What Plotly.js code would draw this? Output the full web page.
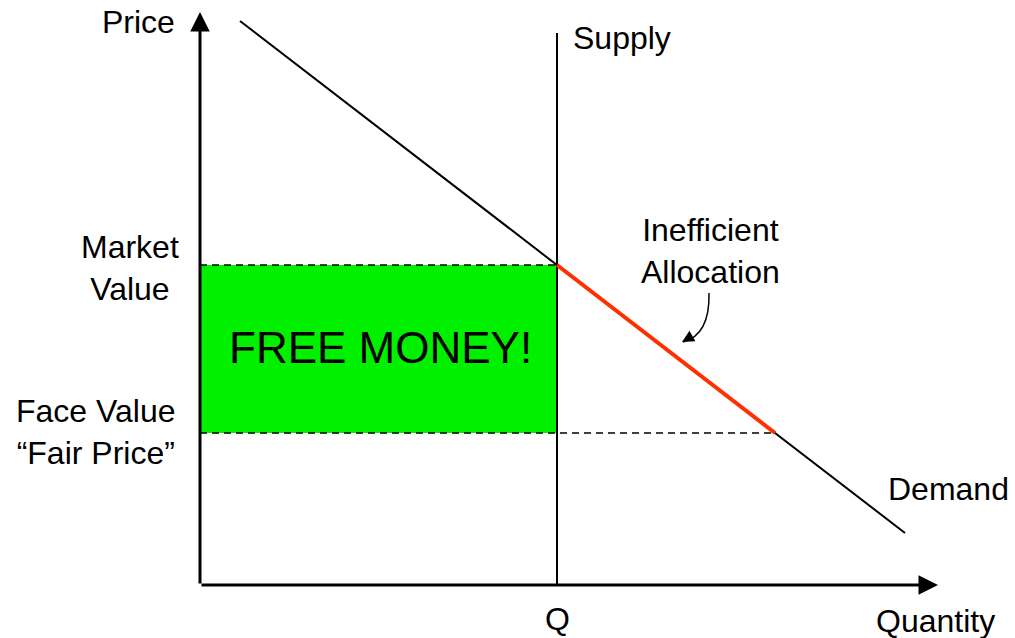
<!DOCTYPE html>
<html>
<head>
<meta charset="utf-8">
<script src="https://cdn.plot.ly/plotly-3.0.1.min.js"></script>
<style>
  html, body { margin: 0; padding: 0; background: #fff; }
  #chart { width: 1015px; height: 638px; }
</style>
</head>
<body>
<div id="chart"></div>
<script>
// schematic values (arbitrary units)
const qStar       = 35.7;
const marketValue = 32;
const faceValue   = 15.2;
const demandQ = [4, qStar, 57.5, 70.5];
const demandP = [56.4, marketValue, faceValue, 5.2];
const supplyQ = [qStar, qStar];
const supplyP = [0, 55.2];
const axisEnd = { q: 73.8, p: 57.3 };

const FONT = 'Liberation Sans, Arial, sans-serif';
const black = '#000';
const LBL = 32;

const traces = [
    {   // gain rectangle
        x: [0, qStar, qStar, 0, 0],
        y: [faceValue, faceValue, marketValue, marketValue, faceValue],
        mode: 'lines', fill: 'toself', fillcolor: '#00f000',
        line: { width: 0 }, hoverinfo: 'skip'
    },
    {   // market value dashed
        x: [0, qStar], y: [marketValue, marketValue],
        mode: 'lines', line: { color: black, width: 1.3, dash: '7px,5px' }
    },
    {   // face value dashed, out to the demand curve
        x: [0, demandQ[2]], y: [faceValue, faceValue],
        mode: 'lines', line: { color: black, width: 1.3, dash: '7px,5px' }
    },
    {
        x: supplyQ, y: supplyP,
        mode: 'lines', line: { color: black, width: 2 }
    },
    {
        x: demandQ, y: demandP,
        mode: 'lines', line: { color: black, width: 2 }
    },
    {   // misallocated part of demand
        x: demandQ.slice(1, 3), y: demandP.slice(1, 3),
        mode: 'lines', line: { color: '#ff3000', width: 4 }
    }
];

function label(text, x, y, size, opts) {
    return Object.assign({
        text: text, x: x, y: y, xref: 'x', yref: 'y',
        showarrow: false, font: { family: FONT, size: size, color: black }
    }, opts || {});
}

const annotations = [
    // axes with arrow heads
    { x: axisEnd.q, y: 0, ax: 0, ay: 0, axref: 'x', ayref: 'y', xref: 'x', yref: 'y',
      text: '', showarrow: true, arrowhead: 2, arrowsize: 1.3, arrowwidth: 3, arrowcolor: black },
    { x: 0, y: axisEnd.p, ax: 0, ay: 0, axref: 'x', ayref: 'y', xref: 'x', yref: 'y',
      text: '', showarrow: true, arrowhead: 2, arrowsize: 1.3, arrowwidth: 3, arrowcolor: black },
    // curved pointer's head
    { x: 48.2, y: 24.3, ax: 7, ay: -4, xref: 'x', yref: 'y',
      text: '', showarrow: true, arrowhead: 2, arrowsize: 1.6, arrowwidth: 1.5, arrowcolor: black, standoff: 0 },

    label('Price', -2.3, 56.3, LBL, { xanchor: 'right' }),
    label('Supply', qStar + 1.4, 54.7, LBL, { xanchor: 'left' }),
    label('Market<br>Value', -7, marketValue - 0.3, LBL, { align: 'center' }),
    label('Face Value<br>“Fair Price”', -10.4, faceValue + 0.1, LBL, { align: 'center' }),
    label('FREE MONEY!', qStar / 2 + 0.2, (marketValue + faceValue) / 2 + 0.2, 44),
    label('Inefficient<br>Allocation', 51, 33.4, LBL, { align: 'center' }),
    label('Demand', 74.8, 9.6, LBL),
    label('Q', qStar, -3.4, LBL),
    label('Quantity', 73.5, -3.6, LBL)
];

const layout = {
    width: 1015, height: 638,
    margin: { t: 0, r: 0, b: 0, l: 0 },
    paper_bgcolor: '#fff', plot_bgcolor: '#fff',
    showlegend: false,
    xaxis: { range: [-20, 81.5], visible: false, fixedrange: true },
    yaxis: { range: [-5.3, 58.5], visible: false, fixedrange: true },
    shapes: [
        {   // curved pointer towards the red segment
            type: 'path', xref: 'x', yref: 'y',
            path: 'M 50.9,29.2 Q 51.0,25.0 48.3,24.3',
            line: { color: black, width: 1.5 }
        }
    ],
    annotations: annotations
};

Plotly.newPlot('chart', traces, layout, { displayModeBar: false, staticPlot: true });
</script>
</body>
</html>
